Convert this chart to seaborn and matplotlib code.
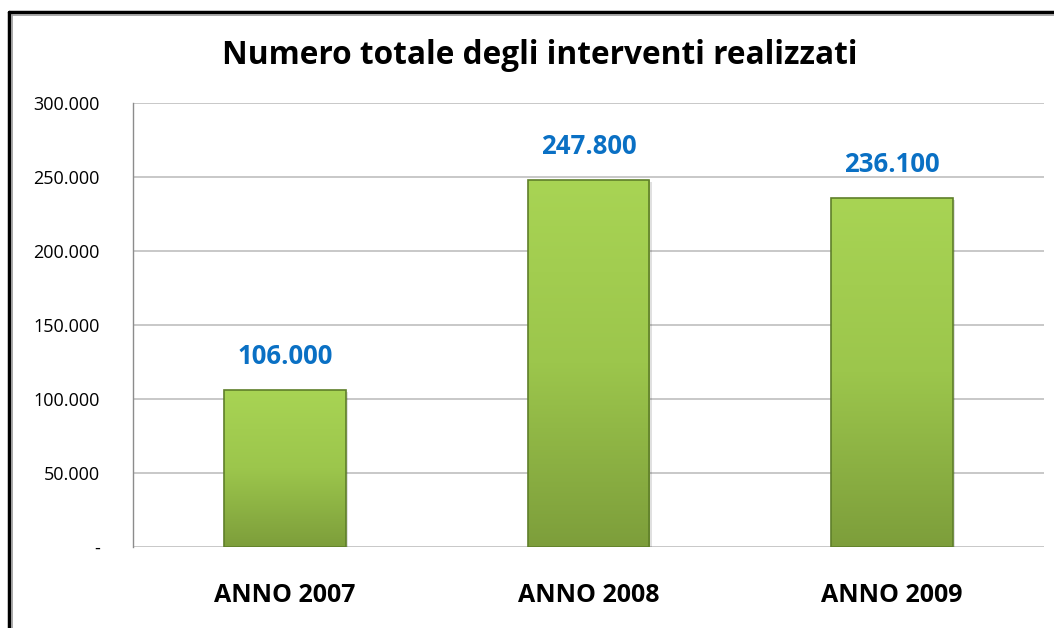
import numpy as np
import pandas as pd
import matplotlib
matplotlib.use("Agg")
import matplotlib.pyplot as plt
import seaborn as sns
from matplotlib.lines import Line2D
from matplotlib.colors import LinearSegmentedColormap

# dati del grafico
anni = ["ANNO 2007", "ANNO 2008", "ANNO 2009"]
interventi = [106000, 247800, 236100]
y_ticks = [0, 50000, 100000, 150000, 200000, 250000, 300000]

def fmt_it(v):
    # formato italiano con punto per le migliaia, "-" per lo zero
    if v == 0:
        return "-"
    return f"{int(v):,}".replace(",", ".")

df = pd.DataFrame({"anno": anni, "interventi": interventi})

sns.set_style("white")
plt.rcParams["font.family"] = ["Open Sans", "DejaVu Sans"]

fig = plt.figure(figsize=(10.54, 6.28), dpi=100)
ax = fig.add_axes([0.1262, 0.129, 0.8643, 0.707])

sns.barplot(data=df, x="anno", y="interventi", ax=ax, width=0.4,
            color="#94bd4a", edgecolor="#5f7f2a", linewidth=1.2, saturation=1)

# riempimento a gradiente per le barre
cmap = LinearSegmentedColormap.from_list("verde", ["#a8d454", "#9cc64c", "#7d9e3b"])
grad = np.linspace(0, 1, 256).reshape(-1, 1)
for p in ax.patches:
    x0, y0 = p.get_x(), p.get_y()
    w, h = p.get_width(), p.get_height()
    # ombra
    sh = plt.Rectangle((x0 + 0.008, y0), w, h - 1500, facecolor="#000000",
                       alpha=0.12, edgecolor="none", zorder=1.5)
    ax.add_patch(sh)
    im = ax.imshow(grad, cmap=cmap, extent=[x0, x0 + w, y0, y0 + h],
                   aspect="auto", origin="upper", zorder=2)
    im.set_clip_path(p)
    p.set_zorder(2.5)
    p.set_facecolor("none")

for i, v in enumerate(interventi):
    ax.text(i, v + 22500, fmt_it(v), ha="center", va="center",
            color="#0a70c4", fontsize=18.5, fontweight="bold")

ax.set_xlim(-0.5, 2.5)
ax.set_ylim(0, 300000)
ax.set_yticks(y_ticks)
ax.set_yticklabels([fmt_it(v) for v in y_ticks], fontsize=13, color="#000000")
ax.yaxis.grid(True, color="#c4c4c4", linewidth=1.3)
ax.set_axisbelow(True)
ax.tick_params(axis="y", length=6, color="#c4c4c4", width=1.3, pad=18)
ax.tick_params(axis="x", length=0, pad=26)
for lab in ax.get_xticklabels():
    lab.set_fontsize(18)
    lab.set_fontweight("bold")
    lab.set_color("#000000")
ax.set_xlabel("")
ax.set_ylabel("")
for s in ["top", "right", "bottom"]:
    ax.spines[s].set_visible(False)
ax.spines["left"].set_color("#8c8c8c")
ax.spines["left"].set_linewidth(1.0)

fig.text(0.512, 0.912, "Numero totale degli interventi realizzati",
         ha="center", va="center", fontsize=22.8, fontweight="bold", color="#000000")

# cornice
W, H = 1054, 628
fig.add_artist(Line2D([9 / W, 9 / W], [0, 1 - 12 / H], color="black", lw=2.5))
fig.add_artist(Line2D([11.5 / W, 11.5 / W], [0, 1 - 14 / H], color="#9a9a9a", lw=1.2))
fig.add_artist(Line2D([9 / W, 1], [1 - 12 / H, 1 - 12 / H], color="black", lw=2.5))
fig.add_artist(Line2D([11.5 / W, 1], [1 - 14.5 / H, 1 - 14.5 / H], color="#9a9a9a", lw=1.2))

fig.savefig("out.png", dpi=100, facecolor="white")
